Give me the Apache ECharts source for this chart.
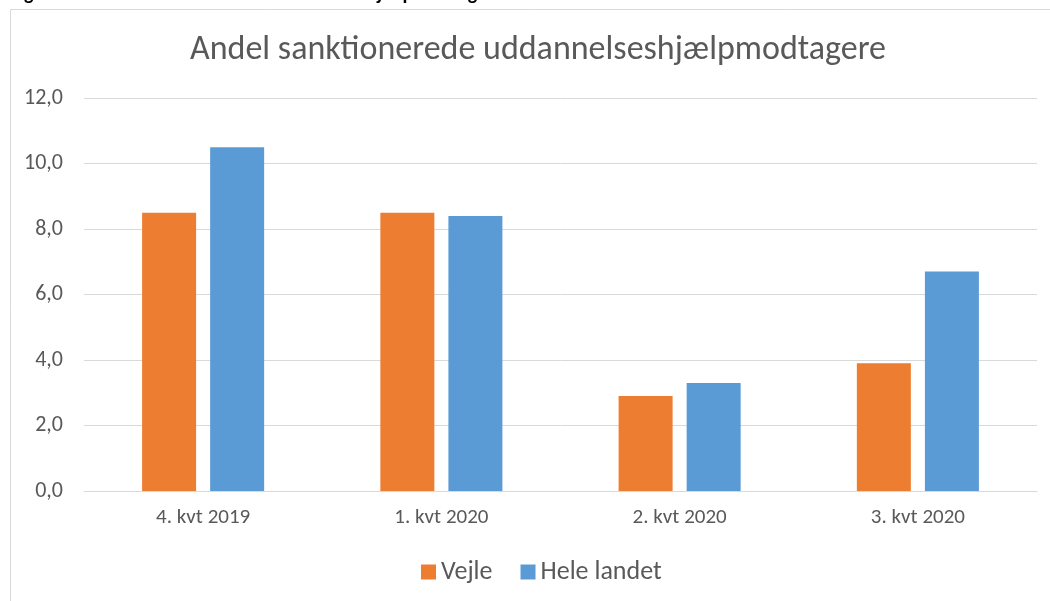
<!DOCTYPE html>
<html>
<head>
<meta charset="utf-8">
<script src="https://cdn.jsdelivr.net/npm/echarts@6/dist/echarts.min.js"></script>
<style>
  html, body { margin: 0; padding: 0; background: #fff; }
  #chart { width: 1050px; height: 601px; }
</style>
</head>
<body>
<div id="chart"></div>
<script>
const quarters = ['4. kvt 2019', '1. kvt 2020', '2. kvt 2020', '3. kvt 2020']
const vejle = [8.5, 8.5, 2.9, 3.9]
const heleLandet = [10.5, 8.4, 3.3, 6.7]
const yTicks = { min: 0, max: 12, interval: 2 }

const font = 'Calibri, Carlito, "Open Sans", sans-serif'
const grey = '#595959'

const chart = echarts.init(document.getElementById('chart'))
chart.setOption({
  animation: false,
  textStyle: { fontFamily: font },
  graphic: [
    // chart frame (cut off on the right and bottom in the source)
    { type: 'rect', shape: { x: 10.5, y: 9.5, width: 1100, height: 700 },
      style: { fill: 'none', stroke: '#d9d9d9', lineWidth: 1 } },
    // figure caption, mostly clipped above the top edge
    { type: 'text', left: 10, top: -15,
      style: { text: 'Figur 3 – Andel sanktionerede uddannelseshjælpmodtagere', fill: '#000',
        font: 'bold 20px ' + font } }
  ],
  title: {
    text: 'Andel sanktionerede uddannelseshjælpmodtagere',
    left: 533, top: 28, textAlign: 'center',
    textStyle: { fontSize: 34, fontWeight: 'normal', color: grey, fontFamily: font }
  },
  legend: {
    bottom: 11, left: 416, itemWidth: 15, itemHeight: 15, itemGap: 28,
    icon: 'rect',
    textStyle: { fontSize: 26, color: grey, fontFamily: font }
  },
  grid: { left: 84, right: 13, top: 98, bottom: 110 },
  xAxis: {
    type: 'category', data: quarters,
    axisLine: { lineStyle: { color: '#d9d9d9' } },
    axisTick: { show: false },
    axisLabel: { fontSize: 21, color: grey, margin: 16, fontFamily: font }
  },
  yAxis: {
    type: 'value', min: yTicks.min, max: yTicks.max, interval: yTicks.interval,
    axisLine: { show: false }, axisTick: { show: false },
    splitLine: { lineStyle: { color: '#d9d9d9' } },
    axisLabel: { fontSize: 22, color: grey, margin: 21, fontFamily: font,
      formatter: v => v.toFixed(1).replace('.', ',') }
  },
  series: [
    { name: 'Vejle', type: 'bar', data: vejle, barWidth: 54, barGap: '26%',
      itemStyle: { color: '#ED7D31' } },
    { name: 'Hele landet', type: 'bar', data: heleLandet, barWidth: 54,
      itemStyle: { color: '#5B9BD5' } }
  ]
})
</script>
</body>
</html>
